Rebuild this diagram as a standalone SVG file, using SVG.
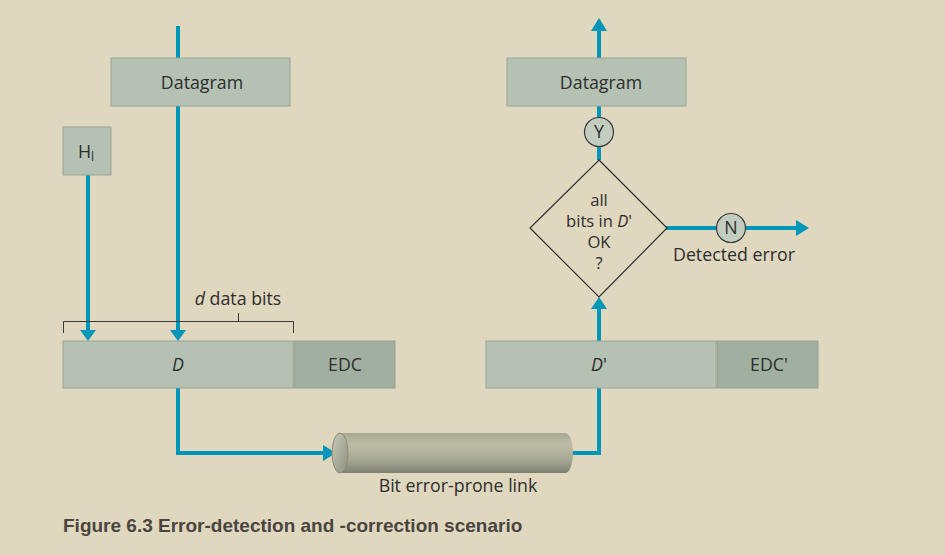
<svg xmlns="http://www.w3.org/2000/svg" width="945" height="555" viewBox="0 0 945 555">
<defs>
<style>
.bg{fill:#dfd7be}
.box{fill:#b4c1b3;stroke:#9aa698;stroke-width:1}
.edc{fill:#a1afa0;stroke:#95a293;stroke-width:1}
.lbl{font-family:"Open Sans","Noto Sans",sans-serif;font-size:17.8px;fill:#2e2e2e;text-anchor:middle}
.dl{font-size:16.6px}
.it{font-style:italic}
.wire{fill:none;stroke:#0096b9;stroke-width:4}
.ah{fill:#0096b9}
.thin{fill:none;stroke:#3a3a3a;stroke-width:1}
.cap{font-family:"Liberation Sans",Arial,sans-serif;font-weight:bold;font-size:19px;fill:#4a4540}
</style>
<linearGradient id="cyl" x1="0" y1="0" x2="0" y2="1">
<stop offset="0" stop-color="#a7a894"/>
<stop offset="0.3" stop-color="#bdbca6"/>
<stop offset="0.7" stop-color="#a4a592"/>
<stop offset="1" stop-color="#7d8070"/>
</linearGradient>
<linearGradient id="cap" x1="0" y1="0" x2="1" y2="1">
<stop offset="0" stop-color="#c9c9b6"/>
<stop offset="1" stop-color="#8e9181"/>
</linearGradient>
</defs>
<rect class="bg" x="0" y="0" width="945" height="555"/>

<g id="connectors">
<path class="wire" d="M178 26V58M178 106V331"/>
<polygon class="ah" points="170,330 186,330 178,341"/>
<path class="wire" d="M88 175V331"/>
<polygon class="ah" points="80,330 96,330 88,341"/>
<path class="wire" d="M178 388V453H324"/>
<polygon class="ah" points="323,445 323,461 336,453"/>
<path class="wire" d="M570 453H599V388"/>
<path class="wire" d="M599 341V307"/>
<polygon class="ah" points="591,309 607,309 599,297"/>
<path class="wire" d="M599 160V106"/>
<path class="wire" d="M599 58V30"/>
<polygon class="ah" points="591,31 607,31 599,18"/>
<path class="wire" d="M666 228H798"/>
<polygon class="ah" points="796,220 796,236 809,228"/>
</g>

<g id="datagram-left">
<rect class="box" x="111" y="58" width="179" height="48"/>
<text class="lbl" x="202" y="89">Datagram</text>
</g>
<g id="header">
<rect class="box" x="63" y="127" width="48" height="48"/>
<text class="lbl" x="86" y="158">H<tspan font-size="12" dy="3">l</tspan></text>
</g>

<g id="bracket">
<path class="thin" d="M63.5 333V321.5H293.5V333M238.5 321.5V313"/>
<text class="lbl" x="238" y="305"><tspan class="it">d</tspan> data bits</text>
</g>

<g id="frame-sent">
<rect class="box" x="63" y="341" width="230" height="47"/>
<rect class="edc" x="294" y="341" width="101" height="47"/>
<text class="lbl it" x="178" y="371">D</text>
<text class="lbl" x="345" y="371">EDC</text>
</g>

<g id="link">
<path d="M340 433H565A8 20 0 0 1 565 473H340Z" fill="url(#cyl)"/>
<ellipse cx="340" cy="453" rx="8" ry="20" fill="url(#cap)" stroke="#8a8c7c" stroke-width="1"/>
<text class="lbl" x="458" y="492">Bit error-prone link</text>
</g>

<g id="frame-received">
<rect class="box" x="486" y="341" width="230" height="47"/>
<rect class="edc" x="717" y="341" width="101" height="47"/>
<text class="lbl" x="599" y="371"><tspan class="it">D</tspan>'</text>
<text class="lbl" x="769" y="371">EDC'</text>
</g>

<g id="decision">
<polygon points="599,160 667,228 599,297 530,228" fill="#dfd7be" stroke="#2e2e2e" stroke-width="1.2"/>
<text class="lbl dl" x="599" y="206">all</text>
<text class="lbl dl" x="599" y="227">bits in <tspan class="it">D</tspan>'</text>
<text class="lbl dl" x="599" y="248">OK</text>
<text class="lbl dl" x="599" y="269">?</text>
</g>

<g id="yes">
<circle cx="599" cy="132" r="14.5" fill="#c3cdbf" stroke="#3a3a3a" stroke-width="1.2"/>
<text class="lbl" x="599" y="138">Y</text>
</g>

<g id="no">
<circle cx="731" cy="228" r="14.5" fill="#c3cdbf" stroke="#3a3a3a" stroke-width="1.2"/>
<text class="lbl" x="731" y="234">N</text>
<text class="lbl" x="734" y="261">Detected error</text>
</g>

<g id="datagram-right">
<rect class="box" x="507" y="58" width="179" height="48"/>
<text class="lbl" x="601" y="89">Datagram</text>
</g>

<text class="cap" x="63" y="532">Figure 6.3 Error-detection and -correction scenario</text>
</svg>
